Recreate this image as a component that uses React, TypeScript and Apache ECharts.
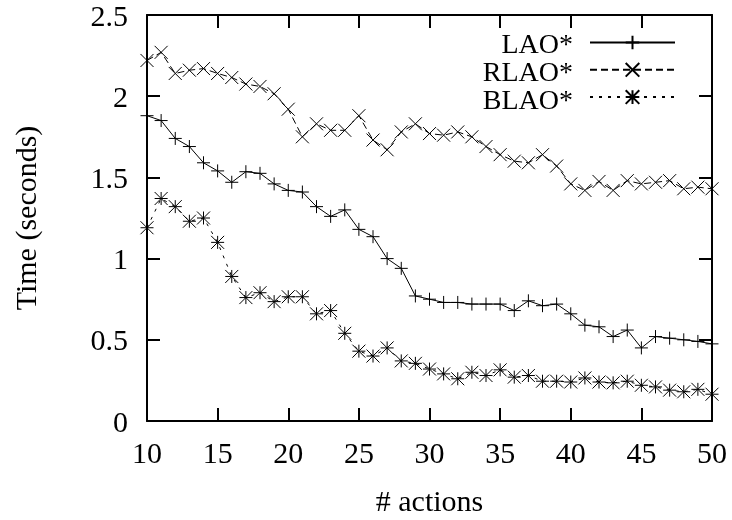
import React, { useEffect, useRef } from "react";
import * as echarts from "echarts";

const actions = [10, 11, 12, 13, 14, 15, 16, 17, 18, 19, 20, 21, 22, 23, 24, 25, 26, 27, 28, 29, 30, 31, 32, 33, 34, 35, 36, 37, 38, 39, 40, 41, 42, 43, 44, 45, 46, 47, 48, 49, 50];
const lao = [1.88, 1.85, 1.74, 1.69, 1.59, 1.54, 1.47, 1.535, 1.525, 1.46, 1.42, 1.41, 1.32, 1.26, 1.30, 1.18, 1.135, 1.00, 0.94, 0.77, 0.75, 0.73, 0.73, 0.72, 0.72, 0.72, 0.68, 0.74, 0.71, 0.72, 0.66, 0.59, 0.58, 0.52, 0.56, 0.45, 0.52, 0.51, 0.50, 0.49, 0.475];
const rlao = [2.22, 2.27, 2.14, 2.16, 2.17, 2.14, 2.115, 2.075, 2.06, 2.015, 1.92, 1.75, 1.83, 1.79, 1.79, 1.88, 1.73, 1.67, 1.78, 1.83, 1.77, 1.76, 1.78, 1.75, 1.69, 1.64, 1.60, 1.59, 1.64, 1.57, 1.46, 1.42, 1.475, 1.42, 1.48, 1.46, 1.47, 1.48, 1.43, 1.44, 1.43];
const blao = [1.19, 1.37, 1.32, 1.23, 1.25, 1.10, 0.89, 0.76, 0.79, 0.735, 0.765, 0.765, 0.66, 0.68, 0.54, 0.43, 0.40, 0.45, 0.37, 0.355, 0.32, 0.29, 0.26, 0.30, 0.28, 0.315, 0.27, 0.28, 0.245, 0.245, 0.24, 0.265, 0.24, 0.235, 0.245, 0.22, 0.21, 0.19, 0.18, 0.195, 0.165];
const seriesNames = ["LAO*", "RLAO*", "BLAO*"];

const FONT = "Liberation Serif";

export default function App() {
  const ref = useRef<HTMLDivElement>(null);
  useEffect(() => {
    if (!ref.current) return;
    const chart = echarts.init(ref.current, undefined, { renderer: "svg" });
    const pair = (vals: number[]) => actions.map((a, i) => [a, vals[i]]);
    const plus = "path://M0,-1L0,1M-1,0L1,0";
    const cross = "path://M-1,-1L1,1M-1,1L1,-1";
    const star = "path://M0,-1L0,1M-1,0L1,0M-1,-1L1,1M-1,1L1,-1";
    const mk = (name: string, vals: number[], symbol: string, type: any) => ({
      name,
      type: "line",
      data: pair(vals),
      symbol,
      symbolSize: 13,
      showAllSymbol: true,
      clip: false,
      silent: true,
      emphasis: { disabled: true },
      lineStyle: { color: "#000", width: 1, type },
      itemStyle: { color: "#000", borderColor: "#000", borderWidth: 1 },
    });
    const axisLine = { show: true, onZero: false, lineStyle: { color: "#000", width: 2 } };
    const tick = { show: true, inside: true, length: 13, lineStyle: { color: "#000", width: 2 } };
    const legendRowsY = [43, 71, 99];
    chart.setOption({
      animation: false,
      textStyle: { fontFamily: FONT, color: "#000" },
      grid: { left: 147, right: 20, top: 15, bottom: 93, containLabel: false },
      legend: {
        data: seriesNames,
        orient: "vertical",
        align: "right",
        right: 56,
        top: 34,
        padding: 0,
        itemGap: 11,
        itemWidth: 85,
        itemHeight: 17,
        selectedMode: false,
        formatter: () => "",
        textStyle: { fontSize: 1 },
      },
      graphic: seriesNames.map((n, i) => ({
        type: "text",
        x: 573,
        y: legendRowsY[i],
        silent: true,
        style: {
          text: n,
          fontFamily: FONT,
          fontSize: 28,
          fill: "#000",
          textAlign: "right",
          textVerticalAlign: "middle",
        },
      })),
      xAxis: [
        {
          type: "value",
          min: 10,
          max: 50,
          interval: 5,
          name: "# actions",
          nameLocation: "middle",
          nameGap: 64,
          nameTextStyle: { fontFamily: FONT, fontSize: 30, color: "#000" },
          axisLine,
          axisTick: tick,
          splitLine: { show: false },
          axisLabel: { fontFamily: FONT, fontSize: 30, color: "#000", margin: 16 },
        },
        {
          type: "value",
          position: "top",
          min: 10,
          max: 50,
          interval: 5,
          axisLine,
          axisTick: tick,
          splitLine: { show: false },
          axisLabel: { show: false },
        },
      ],
      yAxis: [
        {
          type: "value",
          min: 0,
          max: 2.5,
          interval: 0.5,
          name: "Time (seconds)",
          nameLocation: "middle",
          nameGap: 107,
          nameRotate: 90,
          nameTextStyle: { fontFamily: FONT, fontSize: 30, color: "#000" },
          axisLine,
          axisTick: tick,
          splitLine: { show: false },
          axisLabel: { fontFamily: FONT, fontSize: 30, color: "#000", margin: 19 },
        },
        {
          type: "value",
          position: "right",
          min: 0,
          max: 2.5,
          interval: 0.5,
          axisLine,
          axisTick: tick,
          splitLine: { show: false },
          axisLabel: { show: false },
        },
      ],
      series: [
        mk(seriesNames[0], lao, plus, "solid"),
        mk(seriesNames[1], rlao, cross, [7, 4]),
        mk(seriesNames[2], blao, star, [3, 6]),
      ],
    });
    return () => chart.dispose();
  }, []);
  return <div ref={ref} style={{ position: "fixed", left: 0, top: 0, width: 732, height: 520 }} />;
}
